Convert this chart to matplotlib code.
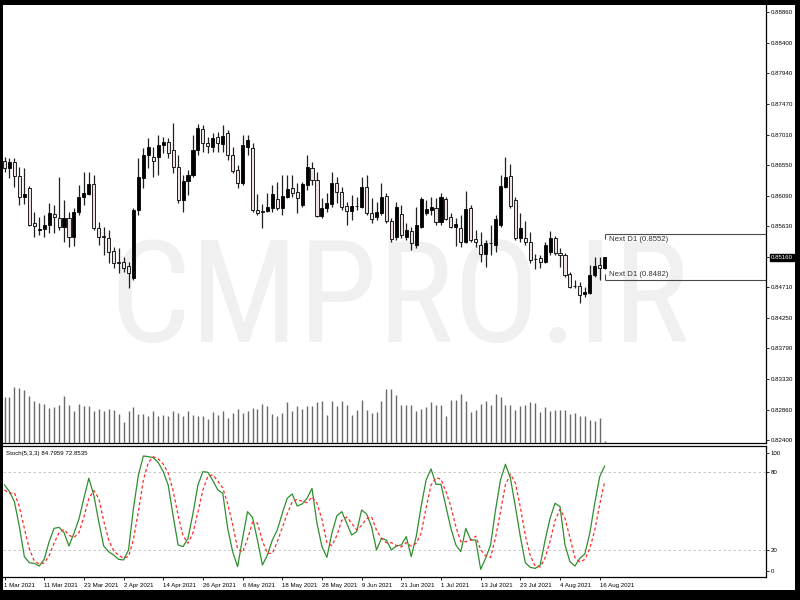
import matplotlib
matplotlib.use('Agg')
import matplotlib.pyplot as plt
from matplotlib import font_manager as fm
from matplotlib.patches import Rectangle
import numpy as np

plt.rcParams['font.family'] = ['Liberation Sans', 'DejaVu Sans']

# daily candles, 1 Mar 2021 .. 17 Aug 2021 (one per trading day)
opens = [0.8662, 0.8651, 0.8660, 0.8639, 0.8607, 0.8621, 0.8568, 0.8558, 0.8559, 0.8565,
         0.8582, 0.8575, 0.8562, 0.8575, 0.8547, 0.8585, 0.8607, 0.8612, 0.8627, 0.8560,
         0.8548, 0.8545, 0.8526, 0.8509, 0.8509, 0.8503, 0.8485, 0.8588, 0.8636, 0.8671,
         0.8668, 0.8668, 0.8686, 0.8690, 0.8678, 0.8652, 0.8603, 0.8631, 0.8640, 0.8678,
         0.8710, 0.8689, 0.8683, 0.8698, 0.8687, 0.8704, 0.8671, 0.8648, 0.8628, 0.8683,
         0.8681, 0.8588, 0.8586, 0.8586, 0.8590, 0.8604, 0.8590, 0.8607, 0.8621, 0.8615,
         0.8595, 0.8625, 0.8651, 0.8633, 0.8578, 0.8590, 0.8597, 0.8628, 0.8615, 0.8594,
         0.8586, 0.8594, 0.8592, 0.8622, 0.8583, 0.8577, 0.8583, 0.8609, 0.8571, 0.8547,
         0.8582, 0.8547, 0.8556, 0.8535, 0.8562, 0.8583, 0.8588, 0.8590, 0.8569, 0.8604,
         0.8577, 0.8562, 0.8560, 0.8539, 0.8590, 0.8544, 0.8535, 0.8521, 0.8538, 0.8535,
         0.8565, 0.8622, 0.8639, 0.8603, 0.8545, 0.8545, 0.8539, 0.8514, 0.8515, 0.8509,
         0.8524, 0.8545, 0.8523, 0.8520, 0.8491, 0.8473, 0.8473, 0.8461, 0.8462, 0.8489,
         0.8505, 0.8500]
highs = [0.8668, 0.8666, 0.8666, 0.8652, 0.8651, 0.8624, 0.8585, 0.8577, 0.8580, 0.8598,
         0.8595, 0.8637, 0.8603, 0.8585, 0.8591, 0.8625, 0.8645, 0.8645, 0.8640, 0.8569,
         0.8562, 0.8557, 0.8532, 0.8530, 0.8517, 0.8509, 0.8591, 0.8666, 0.8681, 0.8696,
         0.8683, 0.8701, 0.8698, 0.8696, 0.8719, 0.8671, 0.8640, 0.8648, 0.8701, 0.8717,
         0.8716, 0.8698, 0.8704, 0.8705, 0.8716, 0.8708, 0.8683, 0.8655, 0.8701, 0.8701,
         0.8689, 0.8612, 0.8597, 0.8613, 0.8625, 0.8630, 0.8640, 0.8640, 0.8640, 0.8628,
         0.8630, 0.8671, 0.8660, 0.8645, 0.8606, 0.8613, 0.8645, 0.8637, 0.8622, 0.8600,
         0.8610, 0.8607, 0.8637, 0.8640, 0.8606, 0.8600, 0.8628, 0.8613, 0.8575, 0.8600,
         0.8595, 0.8568, 0.8562, 0.8592, 0.8607, 0.8603, 0.8607, 0.8606, 0.8613, 0.8607,
         0.8583, 0.8575, 0.8580, 0.8616, 0.8595, 0.8557, 0.8554, 0.8542, 0.8565, 0.8580,
         0.8640, 0.8668, 0.8657, 0.8607, 0.8583, 0.8571, 0.8554, 0.8521, 0.8519, 0.8539,
         0.8556, 0.8548, 0.8530, 0.8523, 0.8494, 0.8482, 0.8479, 0.8471, 0.8504, 0.8516,
         0.8516, 0.8517]
lows = [0.8645, 0.8636, 0.8622, 0.8595, 0.8597, 0.8563, 0.8547, 0.8550, 0.8547, 0.8553,
        0.8553, 0.8557, 0.8539, 0.8532, 0.8533, 0.8580, 0.8595, 0.8610, 0.8557, 0.8535,
        0.8520, 0.8508, 0.8500, 0.8492, 0.8494, 0.8470, 0.8482, 0.8580, 0.8621, 0.8651,
        0.8637, 0.8640, 0.8674, 0.8666, 0.8643, 0.8598, 0.8585, 0.8610, 0.8637, 0.8671,
        0.8675, 0.8674, 0.8675, 0.8675, 0.8675, 0.8663, 0.8643, 0.8621, 0.8625, 0.8671,
        0.8584, 0.8580, 0.8560, 0.8585, 0.8585, 0.8588, 0.8580, 0.8606, 0.8607, 0.8583,
        0.8592, 0.8618, 0.8625, 0.8577, 0.8575, 0.8585, 0.8592, 0.8598, 0.8588, 0.8565,
        0.8572, 0.8587, 0.8590, 0.8580, 0.8568, 0.8572, 0.8580, 0.8568, 0.8539, 0.8542,
        0.8545, 0.8542, 0.8527, 0.8530, 0.8561, 0.8580, 0.8580, 0.8565, 0.8565, 0.8572,
        0.8561, 0.8533, 0.8532, 0.8538, 0.8539, 0.8532, 0.8509, 0.8502, 0.8520, 0.8524,
        0.8562, 0.8621, 0.8590, 0.8542, 0.8539, 0.8535, 0.8508, 0.8498, 0.8500, 0.8508,
        0.8520, 0.8520, 0.8502, 0.8486, 0.8470, 0.8470, 0.8447, 0.8456, 0.8461, 0.8486,
        0.8482, 0.8499]
closes = [0.8651, 0.8660, 0.8639, 0.8607, 0.8612, 0.8565, 0.8563, 0.8559, 0.8565, 0.8583,
          0.8577, 0.8562, 0.8575, 0.8547, 0.8585, 0.8607, 0.8613, 0.8627, 0.8560, 0.8547,
          0.8547, 0.8524, 0.8508, 0.8508, 0.8500, 0.8492, 0.8588, 0.8637, 0.8671, 0.8683,
          0.8662, 0.8686, 0.8690, 0.8674, 0.8652, 0.8603, 0.8631, 0.8640, 0.8678, 0.8711,
          0.8689, 0.8684, 0.8696, 0.8689, 0.8699, 0.8671, 0.8646, 0.8628, 0.8686, 0.8693,
          0.8588, 0.8583, 0.8585, 0.8592, 0.8612, 0.8590, 0.8609, 0.8619, 0.8613, 0.8606,
          0.8627, 0.8652, 0.8633, 0.8578, 0.8590, 0.8598, 0.8628, 0.8615, 0.8592, 0.8586,
          0.8594, 0.8593, 0.8622, 0.8583, 0.8574, 0.8585, 0.8607, 0.8571, 0.8544, 0.8592,
          0.8550, 0.8557, 0.8538, 0.8565, 0.8604, 0.8589, 0.8592, 0.8569, 0.8607, 0.8574,
          0.8562, 0.8566, 0.8539, 0.8589, 0.8542, 0.8539, 0.8521, 0.8538, 0.8537, 0.8574,
          0.8624, 0.8637, 0.8594, 0.8545, 0.8560, 0.8539, 0.8512, 0.8513, 0.8509, 0.8535,
          0.8545, 0.8523, 0.8520, 0.8489, 0.8471, 0.8472, 0.8459, 0.8464, 0.8489, 0.8503,
          0.8500, 0.8516]

# tick volume
volume = [137, 137, 167, 165, 158, 142, 125, 120, 118, 105,
          107, 115, 140, 115, 95, 117, 112, 112, 95, 103,
          95, 102, 100, 87, 62, 95, 107, 87, 87, 82,
          95, 82, 83, 80, 97, 90, 80, 95, 85, 80,
          80, 73, 92, 85, 95, 75, 90, 103, 90, 97,
          105, 102, 118, 110, 87, 82, 90, 123, 95, 110,
          102, 110, 112, 123, 125, 83, 125, 112, 125, 115,
          85, 100, 130, 98, 90, 93, 125, 163, 163, 143,
          115, 115, 115, 95, 102, 107, 123, 115, 115, 82,
          128, 128, 148, 125, 93, 98, 117, 125, 115, 148,
          137, 115, 113, 100, 112, 115, 123, 120, 93, 108,
          95, 98, 100, 100, 87, 90, 80, 82, 70, 67,
          75, 5]

stoch_k = [70.2, 65.1, 57.3, 38.0, 14.9, 10.2, 9.7, 7.6, 12.8, 26.4,
           36.7, 37.5, 33.4, 23.1, 32.9, 43.7, 59.9, 75.4, 62.5, 41.9,
           23.1, 18.7, 16.1, 12.8, 12.3, 20.0, 52.2, 77.9, 92.6, 92.1,
           91.3, 87.5, 80.5, 70.2, 46.3, 23.9, 22.6, 29.0, 48.3, 70.2,
           80.5, 80.0, 73.6, 66.4, 63.8, 36.7, 18.7, 7.1, 29.0, 49.6,
           45.2, 27.7, 8.4, 16.1, 27.7, 35.5, 48.3, 59.9, 63.3, 54.0,
           55.5, 59.9, 67.6, 40.6, 22.6, 14.3, 32.9, 46.3, 49.6, 40.6,
           31.6, 34.2, 50.9, 47.8, 38.0, 20.0, 29.0, 27.7, 20.0, 23.1,
           23.9, 30.3, 14.9, 30.3, 53.5, 74.1, 82.6, 70.7, 70.7, 53.5,
           36.7, 23.9, 18.7, 36.7, 27.7, 27.7, 5.1, 13.6, 23.9, 50.9,
           74.1, 86.2, 75.4, 53.5, 30.3, 10.2, 6.6, 5.8, 8.4, 27.7,
           44.5, 56.1, 53.5, 23.9, 11.0, 7.6, 13.6, 16.9, 32.9, 56.1,
           76.6, 84.7959]
stoch_d = [66.4, 63.8, 64.2, 53.5, 36.7, 21.0, 11.6, 9.2, 10.0, 15.6,
           25.3, 33.5, 35.9, 31.3, 29.8, 33.2, 45.5, 59.7, 65.9, 59.9,
           42.5, 27.9, 19.3, 15.9, 13.7, 15.0, 28.2, 50.0, 74.2, 87.5,
           92.0, 90.3, 86.4, 79.4, 65.7, 46.8, 30.9, 25.2, 33.3, 49.2,
           66.3, 76.9, 78.0, 73.3, 67.9, 55.6, 39.7, 20.8, 18.3, 28.6,
           41.3, 40.8, 27.1, 17.4, 17.4, 26.4, 37.2, 47.9, 57.2, 59.1,
           57.6, 56.5, 61.0, 56.0, 43.6, 25.8, 23.3, 31.2, 42.9, 45.5,
           40.6, 35.5, 38.9, 44.3, 45.6, 35.3, 29.0, 25.6, 25.6, 23.6,
           22.3, 25.8, 23.0, 25.2, 32.9, 52.6, 70.1, 75.8, 74.7, 65.0,
           53.6, 38.0, 26.4, 26.4, 27.7, 30.7, 20.2, 15.5, 14.2, 29.5,
           49.6, 70.4, 78.6, 71.7, 53.1, 31.3, 15.7, 7.5, 6.9, 14.0,
           26.9, 42.8, 51.4, 44.5, 29.5, 14.2, 10.7, 12.7, 21.1, 35.3,
           55.2, 72.8535]

date_labels = ['1 Mar 2021', '11 Mar 2021', '23 Mar 2021', '2 Apr 2021', '14 Apr 2021',
               '26 Apr 2021', '6 May 2021', '18 May 2021', '28 May 2021', '9 Jun 2021',
               '21 Jun 2021', '1 Jul 2021', '13 Jul 2021', '23 Jul 2021', '4 Aug 2021',
               '16 Aug 2021']
date_bars = [0, 8, 16, 24, 32, 40, 48, 56, 64, 72, 80, 88, 96, 104, 112, 120]

price_ticks = [0.88860, 0.88400, 0.87940, 0.87470, 0.87010, 0.86550, 0.86090, 0.85630,
               0.85160, 0.84710, 0.84250, 0.83790, 0.83330, 0.82860, 0.82400]
last_price = 0.85160
next_d1 = [0.8552, 0.8482]

# ---------------------------------------------------------------- layout
W, H = 800, 600
fig = plt.figure(figsize=(8, 6), dpi=100, facecolor='black')
fig.add_artist(Rectangle((3 / W, 1 - 590 / H), 792 / W, 585 / H, transform=fig.transFigure,
                         facecolor='white', edgecolor='none', zorder=-10))

ax = fig.add_axes([3 / W, 1 - 443 / H, 763 / W, 438 / H])
ax2 = fig.add_axes([3 / W, 1 - 577 / H, 763 / W, 131 / H], sharex=ax)

n = len(closes)
x = np.arange(n)
bar_px = 4.96
xmin = -1.5 / bar_px
xmax = xmin + 763 / bar_px

# volume as thin lines along the bottom of the price pane
axv = ax.twinx()
axv.vlines(x, 0, volume, colors='#6a6a6a', linewidth=1.0)
axv.set_ylim(0, 3 * 438)
axv.axis('off')

# candles
o = np.array(opens)
c = np.array(closes)
up = c >= o
ax.vlines(x, lows, highs, colors='#202020', linewidth=0.9, zorder=2)
body_lo = np.minimum(o, c)
body_h = np.maximum(np.abs(c - o), 0.00003)
ax.bar(x[up], body_h[up], bottom=body_lo[up], width=0.62, color='black',
       edgecolor='black', linewidth=0.6, zorder=3)
ax.bar(x[~up], body_h[~up], bottom=body_lo[~up], width=0.62, color='#efe2e2',
       edgecolor='black', linewidth=0.6, zorder=3)

ax.set_xlim(xmin, xmax)
ax.set_ylim(0.82357, 0.88970)
ax.yaxis.tick_right()
ax.set_yticks(price_ticks)
ax.set_yticklabels(['%.5f' % p for p in price_ticks])
ax.tick_params(axis='y', labelsize=4.4, length=2, width=0.6, pad=1.5, colors='black')
ax.tick_params(axis='x', bottom=False, labelbottom=False)
for lbl, p in zip(ax.get_yticklabels(), price_ticks):
    if abs(p - last_price) < 1e-6:
        lbl.set_color('white')
        lbl.set_bbox(dict(facecolor='black', edgecolor='black', pad=0.8))
for s in ['top', 'left']:
    ax.spines[s].set_visible(False)
for s in ['right', 'bottom']:
    ax.spines[s].set_linewidth(0.9)
ax.set_facecolor('white')

# next D1 levels
xs = x[-1] + 0.1
for lvl, up_lbl in zip(next_d1, [False, True]):
    ax.hlines(lvl, xs, xmax, colors='#4a4a4a', linewidth=0.8, zorder=2)
    tick = 0.0009 if up_lbl else -0.0009
    ax.vlines(xs, lvl, lvl + tick, colors='#4a4a4a', linewidth=0.8, zorder=2)
    ax.annotate('Next D1 (%.4f)' % lvl, xy=(x[-1] + 0.9, lvl),
                xytext=(0, 1.5 if up_lbl else -1.5), textcoords='offset points',
                va='bottom' if up_lbl else 'top', ha='left', fontsize=5.6, color='#333333')

# watermark
names = {f.name for f in fm.fontManager.ttflist}
wm_family = 'Liberation Sans'
for cand in ['Liberation Sans Narrow', 'Roboto Condensed', 'Open Sans Condensed']:
    if cand in names:
        wm_family = cand
        break
wm = ax.text(0.5, 0.2, 'CMPRO.IR', transform=ax.transAxes, ha='center', va='baseline',
             fontsize=100, color='#f0f0f0', family=wm_family, zorder=0)
fig.canvas.draw()
bb = wm.get_window_extent()
size = 100 * 580 / bb.width
wm.set_fontsize(size)
em = size * 100 / 72
base_y = 290 + 0.36 * em
wm.set_position(((399 - 3) / 763, (443 - base_y) / 438))

# stochastic pane
ax2.plot(x, stoch_k, color='#2f8f2f', linewidth=0.9)
ax2.plot(x, stoch_d, color='#ff2a2a', linewidth=0.9, linestyle=(0, (2.5, 2)))
for lvl in [80, 20]:
    ax2.axhline(lvl, color='#bdbdbd', linewidth=0.6, linestyle=(0, (3, 3)), zorder=0)
ax2.set_ylim(-0.85, 100.3)
ax2.yaxis.tick_right()
ax2.set_yticks([95.1, 80, 20, 4.0])
ax2.set_yticklabels(['100', '80', '20', '0'])
ax2.tick_params(axis='y', labelsize=4.4, length=2, width=0.6, pad=1.5)
ax2.set_xticks(date_bars)
ax2.set_xticklabels(date_labels)
ax2.tick_params(axis='x', labelsize=4.4, length=2.5, width=0.6, pad=1.5)
for lbl in ax2.get_xticklabels():
    lbl.set_ha('left')
ax2.spines['left'].set_visible(False)
for s in ['top', 'right', 'bottom']:
    ax2.spines[s].set_linewidth(0.9)
ax2.text(0.004, 0.945, 'Stoch(5,3,3) %.4f %.4f' % (stoch_k[-1], stoch_d[-1]),
         transform=ax2.transAxes, fontsize=4.4, va='center', ha='left')

fig.savefig('out.png', dpi=100, facecolor=fig.get_facecolor())
